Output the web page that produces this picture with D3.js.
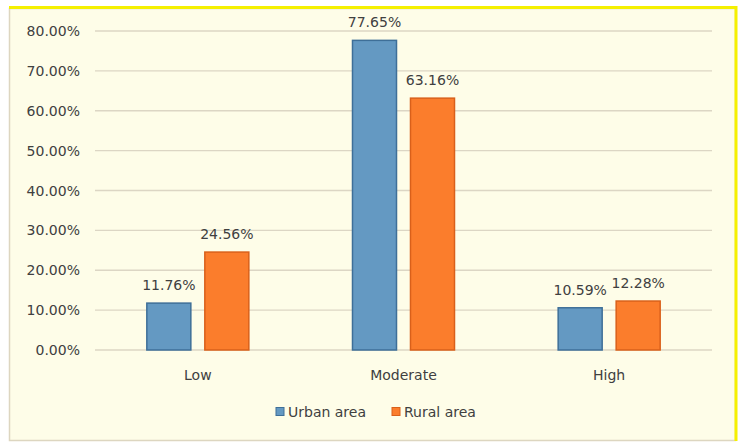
<!DOCTYPE html>
<html><head><meta charset="utf-8">
<script src="https://cdn.jsdelivr.net/npm/d3@7/dist/d3.min.js"></script>
<style>body{margin:0;background:#fff}svg{display:block}</style>
</head><body>
<script>
const categories = ["Low", "Moderate", "High"];
const seriesNames = ["Urban area", "Rural area"];
const urban = [11.76, 77.65, 10.59];
const rural = [24.56, 63.16, 12.28];
const yTicks = [0, 10, 20, 30, 40, 50, 60, 70, 80];
const colors = ["#6499c2", "#fb7d2c"];
const strokes = ["#3e6f98", "#d9601a"];
const FONT = "DejaVu Sans, Verdana, sans-serif";

const W = 743, H = 443;
const svg = d3.select("body").append("svg").attr("width", W).attr("height", H);
svg.append("rect").attr("x", 0).attr("y", 0).attr("width", W).attr("height", H).attr("fill", "#ffffff");
svg.append("rect").attr("x", 9.5).attr("y", 8.5).attr("width", 726).attr("height", 432).attr("fill", "#fefde8").attr("stroke", "#ddd6c0").attr("stroke-width", 1.5);
svg.append("line").attr("x1", 9).attr("x2", 737).attr("y1", 7.5).attr("y2", 7.5).attr("stroke", "#f5f000").attr("stroke-width", 3);
svg.append("line").attr("x1", 736).attr("x2", 736).attr("y1", 6).attr("y2", 441).attr("stroke", "#f5f000").attr("stroke-width", 3);

const x0 = d3.scaleBand().domain(categories).range([95, 712]);
const x1 = d3.scaleBand().domain(seriesNames).range([0, x0.bandwidth()]).paddingInner(0.224).paddingOuter(0.885);
const y = d3.scaleLinear().domain([0, 80]).range([350, 31]);

const g = svg.append("g");
g.selectAll("line.grid").data(yTicks).join("line")
  .attr("x1", 95).attr("x2", 712)
  .attr("y1", d => y(d)).attr("y2", d => y(d))
  .attr("stroke", "#dcd6c4").attr("stroke-width", 1.3);
g.selectAll("text.yt").data(yTicks).join("text")
  .attr("x", 80).attr("y", d => y(d)).attr("dy", "0.36em")
  .attr("text-anchor", "end").attr("font-family", FONT)
  .attr("font-size", 14).attr("fill", "#404040")
  .text(d => d.toFixed(2) + "%");

const data = [urban, rural];
data.forEach((vals, si) => {
  const gs = g.append("g");
  gs.selectAll("rect").data(vals).join("rect")
    .attr("x", (d, i) => x0(categories[i]) + x1(seriesNames[si]) + 0.5)
    .attr("width", x1.bandwidth() - 1)
    .attr("y", d => y(d))
    .attr("height", d => y(0) - y(d))
    .attr("fill", colors[si]).attr("stroke", strokes[si]).attr("stroke-width", 1.5);
  gs.selectAll("text").data(vals).join("text")
    .attr("x", (d, i) => x0(categories[i]) + x1(seriesNames[si]) + x1.bandwidth() / 2)
    .attr("y", d => y(d) - 13)
    .attr("text-anchor", "middle").attr("font-family", FONT)
    .attr("font-size", 14).attr("fill", "#404040")
    .text(d => d.toFixed(2) + "%");
});

g.selectAll("text.cat").data(categories).join("text")
  .attr("x", d => x0(d) + x0.bandwidth() / 2).attr("y", 380)
  .attr("text-anchor", "middle").attr("font-family", FONT)
  .attr("font-size", 14).attr("fill", "#404040").text(d => d);

const legX = [276, 392];
seriesNames.forEach((s, i) => {
  svg.append("rect").attr("x", legX[i]).attr("y", 407.5).attr("width", 8).attr("height", 8)
    .attr("fill", colors[i]).attr("stroke", strokes[i]).attr("stroke-width", 1);
  svg.append("text").attr("x", legX[i] + 12).attr("y", 417)
    .attr("font-family", FONT).attr("font-size", 14).attr("fill", "#404040").text(s);
});
</script>
</body></html>
